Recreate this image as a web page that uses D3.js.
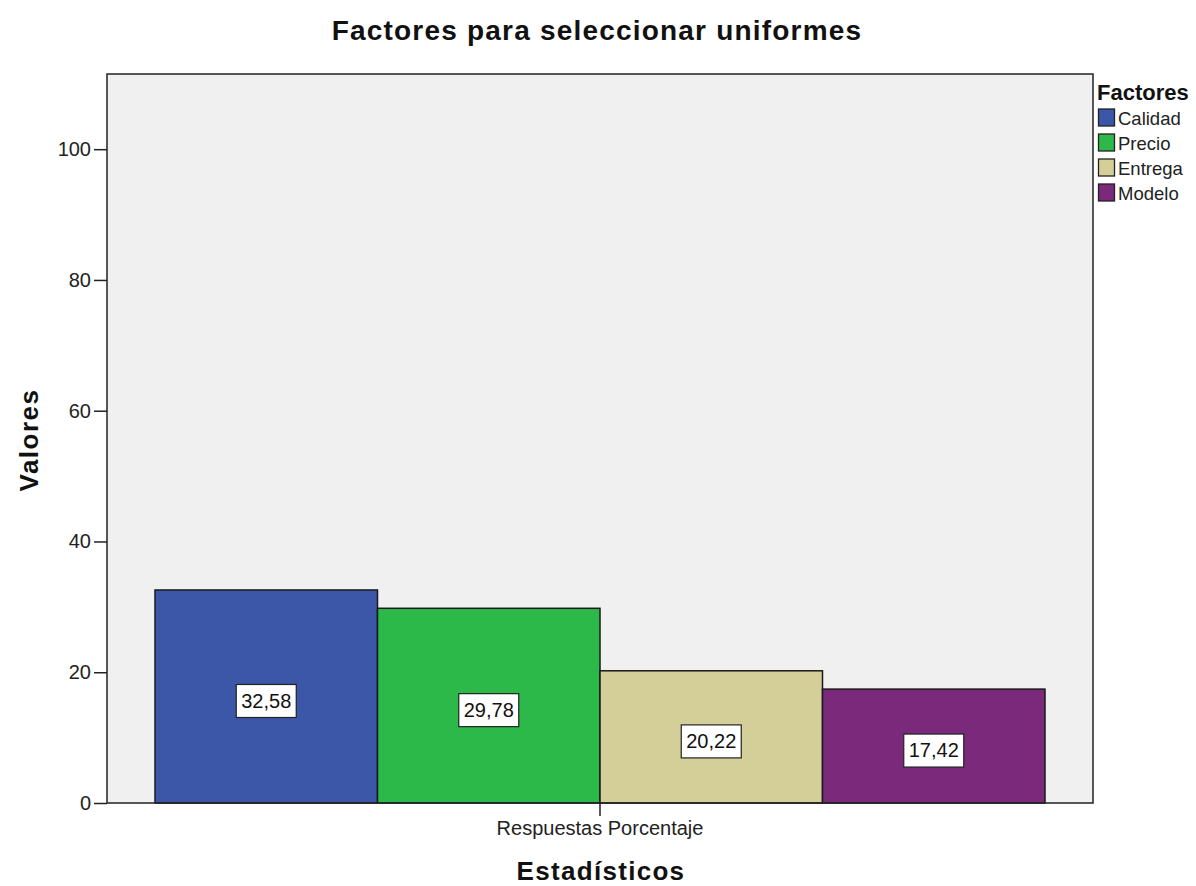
<!DOCTYPE html>
<html>
<head>
<meta charset="utf-8">
<script src="https://cdn.jsdelivr.net/npm/d3@7"></script>
<style>
  html, body { margin: 0; padding: 0; background: #fff; }
  svg { display: block; font-family: "Liberation Sans", Arial, sans-serif; }
</style>
</head>
<body>
<svg id="chart" width="1196" height="886"></svg>
<script>
// Chart data
const categories = ["Respuestas Porcentaje"];
const factors = ["Calidad", "Precio", "Entrega", "Modelo"];
const values = [32.58, 29.78, 20.22, 17.42];
const colors = ["#3c56a8", "#2db84a", "#d4cf98", "#7b2a7b"];
const yTicks = [0, 20, 40, 60, 80, 100];

const svg = d3.select("#chart");
const plot = { left: 107, right: 1093, top: 74, bottom: 803 };
const FONT = "Liberation Sans, Arial, sans-serif";

const y = d3.scaleLinear().domain([0, 111.5]).range([plot.bottom, plot.top]);
const x0 = d3.scaleBand().domain(categories).range([plot.left, plot.right]).paddingInner(0).paddingOuter(0.05);
const x1 = d3.scaleBand().domain(factors).range([155 - plot.left, 1045 - plot.left]).padding(0);

// Plot background
svg.append("rect")
  .attr("x", plot.left).attr("y", plot.top)
  .attr("width", plot.right - plot.left).attr("height", plot.bottom - plot.top)
  .attr("fill", "#f0f0f0");

// Bars
const g = svg.append("g");
const bars = factors.map((f, i) => ({ f, v: values[i], c: colors[i] }));
g.selectAll("rect.bar").data(bars).join("rect")
  .attr("class", "bar")
  .attr("x", d => plot.left + x1(d.f))
  .attr("y", d => y(d.v))
  .attr("width", x1.bandwidth())
  .attr("height", d => y(0) - y(d.v))
  .attr("fill", d => d.c)
  .attr("stroke", "#1a1a1a")
  .attr("stroke-width", 1.5);

// Value labels in boxes at half bar height
const lab = g.selectAll("g.lab").data(bars).join("g")
  .attr("class", "lab")
  .attr("transform", d => `translate(${plot.left + x1(d.f) + x1.bandwidth() / 2},${y(d.v / 2) + 4})`);
lab.append("rect")
  .attr("x", -30).attr("y", -16).attr("width", 60).attr("height", 33)
  .attr("fill", "#ffffff").attr("stroke", "#222").attr("stroke-width", 1.2);
lab.append("text")
  .attr("text-anchor", "middle").attr("dy", "0.36em")
  .attr("font-size", 20).attr("fill", "#111")
  .text(d => d.v.toFixed(2).replace(".", ","));

// Frame
svg.append("rect")
  .attr("x", plot.left).attr("y", plot.top)
  .attr("width", plot.right - plot.left).attr("height", plot.bottom - plot.top)
  .attr("fill", "none").attr("stroke", "#222").attr("stroke-width", 1.5);

// Y axis
const yAxis = svg.append("g")
  .attr("transform", `translate(${plot.left},0)`)
  .call(d3.axisLeft(y).tickValues(yTicks).tickSize(13).tickPadding(3).tickFormat(d3.format("d")));
yAxis.select(".domain").remove();
yAxis.selectAll("line").attr("stroke", "#222").attr("stroke-width", 1.5);
yAxis.selectAll("text").attr("font-size", 20).attr("fill", "#222").attr("font-family", FONT);

// X axis
const xAxis = svg.append("g")
  .attr("transform", `translate(0,${plot.bottom})`)
  .call(d3.axisBottom(x0).tickSize(13).tickPadding(5));
xAxis.select(".domain").remove();
xAxis.selectAll("line").attr("stroke", "#222").attr("stroke-width", 1.5);
xAxis.selectAll("text").attr("font-size", 20).attr("fill", "#222").attr("font-family", FONT);

// Titles
svg.append("text").attr("x", 597).attr("y", 40).attr("text-anchor", "middle")
  .attr("font-size", 28).attr("font-weight", "bold").attr("letter-spacing", 1.2).attr("fill", "#111")
  .text("Factores para seleccionar uniformes");
svg.append("text").attr("x", 601).attr("y", 880).attr("text-anchor", "middle")
  .attr("font-size", 26).attr("font-weight", "bold").attr("letter-spacing", 1.3).attr("fill", "#111")
  .text("Estadísticos");
svg.append("text").attr("transform", "translate(38,440) rotate(-90)").attr("text-anchor", "middle")
  .attr("font-size", 26).attr("font-weight", "bold").attr("letter-spacing", 1.5).attr("fill", "#111")
  .text("Valores");

// Legend
const leg = svg.append("g").attr("transform", "translate(1097,0)");
leg.append("text").attr("x", 0).attr("y", 100)
  .attr("font-size", 22).attr("font-weight", "bold").attr("fill", "#111")
  .text("Factores");
const items = leg.selectAll("g.item").data(bars).join("g")
  .attr("class", "item")
  .attr("transform", (d, i) => `translate(0,${109 + i * 25})`);
items.append("rect").attr("x", 1.5).attr("y", 0).attr("width", 16).attr("height", 17)
  .attr("fill", d => d.c).attr("stroke", "#222").attr("stroke-width", 1.3);
items.append("text").attr("x", 21).attr("y", 16).attr("font-size", 18.5).attr("fill", "#222")
  .text(d => d.f);
</script>
</body>
</html>
